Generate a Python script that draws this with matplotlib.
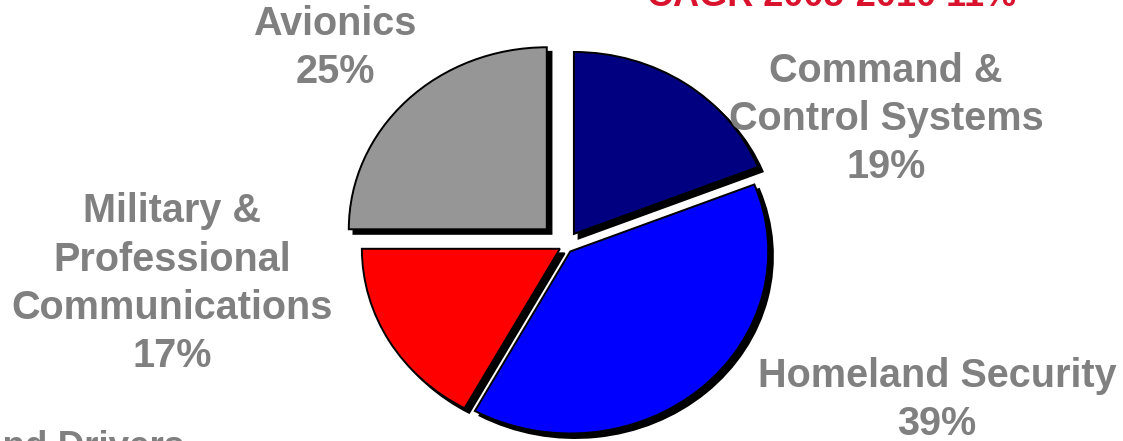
import matplotlib
matplotlib.use("Agg")
import matplotlib.pyplot as plt

# market share by segment
segments = ["Command &\nControl Systems", "Homeland Security",
            "Military &\nProfessional\nCommunications", "Avionics"]
shares = [19, 39, 17, 25]
slice_colors = ["#000080", "#0000FF", "#FF0000", "#969696"]
explode = [0.08, 0.04, 0.03, 0.13]

# label anchors in pixels (x centre, baseline of last line)
label_pos = [(886, 178), (937, 435), (172, 367), (335, 83)]

W, H = 1123, 441
SX, SY = 198.0, 182.0     # pixels per pie unit, x and y
CX, CY = 565.0, 246.0     # pie centre in pixels

fig = plt.figure(figsize=(W / 100, H / 100), dpi=100)
ax = fig.add_axes([0, 0, 1, 1])

wedges, _ = ax.pie(shares, colors=slice_colors, explode=explode,
                   startangle=90, counterclock=False,
                   wedgeprops={'edgecolor': 'black', 'linewidth': 1.4},
                   shadow={'ox': 0.017, 'oy': -0.018, 'shade': 1.0, 'alpha': 1.0})
ax.set_aspect('auto')
ax.set_xlim(-CX / SX, (W - CX) / SX)
ax.set_ylim(-(H - CY) / SY, CY / SY)
ax.axis('off')

font = ['Liberation Sans', 'DejaVu Sans']
for name, share, (px, py) in zip(segments, shares, label_pos):
    fig.text(px / W, 1 - py / H, f"{name}\n{share}%", ha='center', va='baseline',
             multialignment='center', fontsize=28.5, fontweight='bold',
             color='#808080', family=font, linespacing=1.34)

fig.text(832 / W, 1 - 6 / H, "CAGR 2005-2010 11%", ha='center', va='baseline',
         fontsize=26, fontweight='bold', color='#D9132E', family=font)
fig.text(184 / W, 1 - 457 / H, "and Drivers", ha='right', va='baseline',
         fontsize=26.5, fontweight='bold', color='#808080', family=font)

fig.savefig("out.png", dpi=100)
